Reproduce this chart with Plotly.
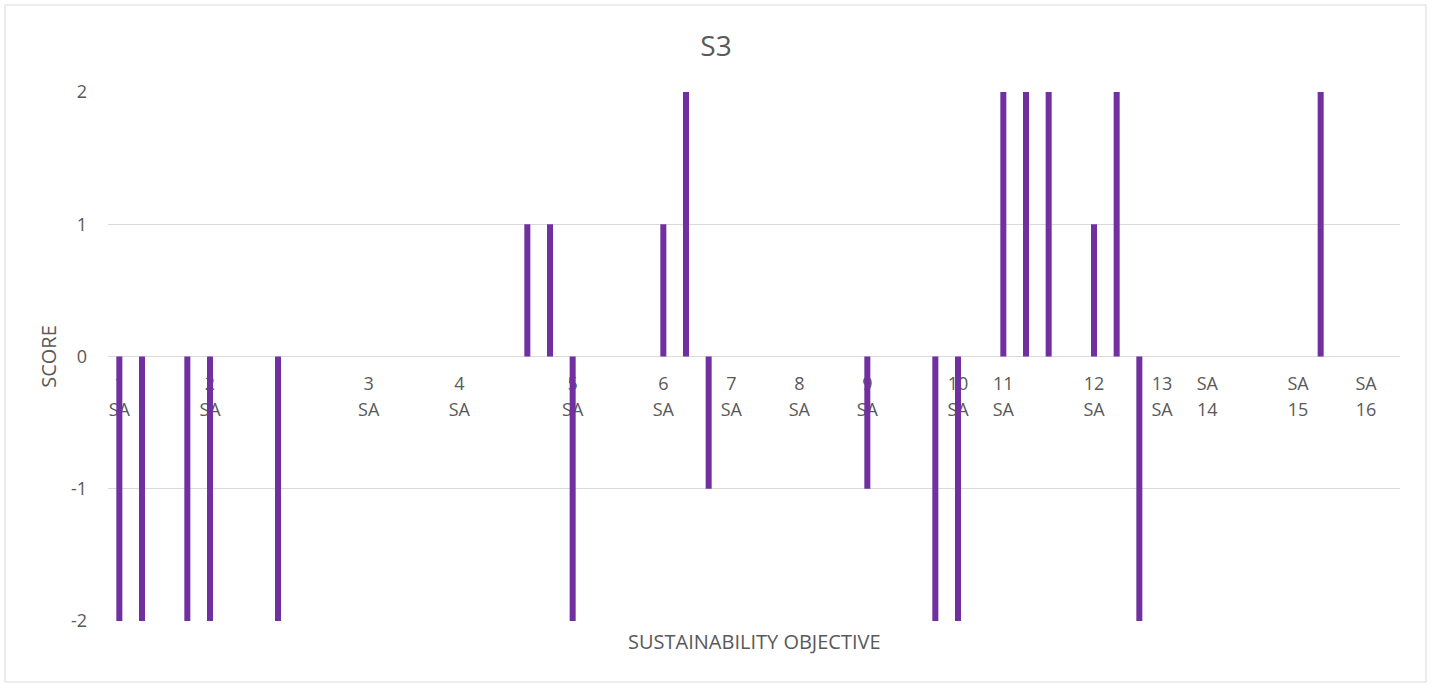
import plotly.graph_objects as go

# ---- data ----
sa_numbers = list(range(1, 17))
group_sizes = [4, 7, 4, 5, 4, 3, 3, 3, 4, 2, 4, 3, 2, 4, 3, 2]
# category labels wrap onto two lines in the original
tick_top = ["1", "2", "3", "4", "5", "6", "7", "8", "9", "10", "11", "12", "13",
            "SA", "SA", "SA"]
tick_bottom = ["SA"] * 13 + ["14", "15", "16"]
scores = [
    -2, -2, 0, -2,               # SA1
    -2, 0, 0, -2, 0, 0, 0,       # SA2
    0, 0, 0, 0,                  # SA3
    0, 0, 0, 1, 1,               # SA4
    -2, 0, 0, 0,                 # SA5
    1, 2, -1,                    # SA6
    0, 0, 0,                     # SA7
    0, 0, 0,                     # SA8
    -1, 0, 0, -2,                # SA9
    -2, 0,                       # SA10
    2, 2, 2, 0,                  # SA11
    1, 2, -2,                    # SA12
    0, 0,                        # SA13
    0, 0, 0, 0,                  # SA14
    0, 2, 0,                     # SA15
    0, 0,                        # SA16
]
y_ticks = [-2, -1, 0, 1, 2]
y_tick_text = ["-2", "-1", "0", "1", "2"]

categories = [f"SA{n}.{i + 1}" for n, s in zip(sa_numbers, group_sizes) for i in range(s)]
tick_vals = [f"SA{n}.1" for n in sa_numbers]

# ---- figure ----
W, H = 1432, 684
L, R, T, B = 108, 32, 92, 63
pw, ph = W - L - R, H - T - B

def px_x(x):
    return (x - L) / pw

def px_y(y):
    return (H - B - y) / ph

grey = "#595959"
font_family = "'Open Sans', 'Noto Sans', sans-serif"

fig = go.Figure()
fig.add_trace(go.Bar(
    x=categories, y=scores,
    marker=dict(color="#7030A0", line=dict(width=0)),
    showlegend=False, hoverinfo="x+y",
))

common_x = dict(
    type="category",
    categoryorder="array", categoryarray=categories,
    tickmode="array", tickvals=tick_vals,
    anchor="free", position=0.5,
    showgrid=False, showline=False, zeroline=False,
    ticks="",
    tickfont=dict(size=18, color=grey, family=font_family),
    layer="below traces",
    automargin=False,
)

fig.update_layout(
    width=W, height=H,
    margin=dict(l=L, r=R, t=T, b=B, autoexpand=False),
    paper_bgcolor="white", plot_bgcolor="white",
    font=dict(family=font_family, color=grey),
    bargap=0.735,
    title=dict(text="S3", x=0.5, xref="container", xanchor="center",
               y=1 - 46 / H, yanchor="middle",
               font=dict(size=28, color=grey, family=font_family)),
    xaxis=dict(common_x, ticktext=tick_top, ticklabelstandoff=14),
    xaxis2=dict(common_x, ticktext=tick_bottom, ticklabelstandoff=40,
                overlaying="x", matches="x", side="bottom"),
    yaxis=dict(
        range=[-2, 2],
        tickmode="array", tickvals=y_ticks, ticktext=y_tick_text,
        showgrid=True, gridcolor="#d9d9d9", gridwidth=1,
        zeroline=True, zerolinecolor="#d9d9d9", zerolinewidth=1,
        showline=False, ticks="", ticklabelstandoff=20,
        tickfont=dict(size=18, color=grey),
        title=dict(text="SCORE", standoff=8, font=dict(size=20, color=grey)),
        automargin=False,
    ),
    annotations=[dict(
        text="SUSTAINABILITY OBJECTIVE", xref="paper", yref="paper",
        x=0.5, y=px_y(641), xanchor="center", yanchor="middle",
        showarrow=False, font=dict(size=20, color=grey),
    )],
    shapes=[dict(
        type="rect", xref="paper", yref="paper",
        x0=px_x(5), x1=px_x(1426), y0=px_y(682), y1=px_y(5),
        line=dict(color="#d9d9d9", width=1), fillcolor="rgba(0,0,0,0)",
        layer="below",
    )],
)

# invisible companion trace so the second (label) axis is drawn
fig.add_trace(go.Bar(x=categories, y=[None] * len(categories), xaxis="x2",
                     showlegend=False, hoverinfo="skip"))

fig.write_html(
    "out.html",
    config={"displayModeBar": False},
    post_script="document.body.style.margin='0';document.body.style.overflow='hidden';",
)
